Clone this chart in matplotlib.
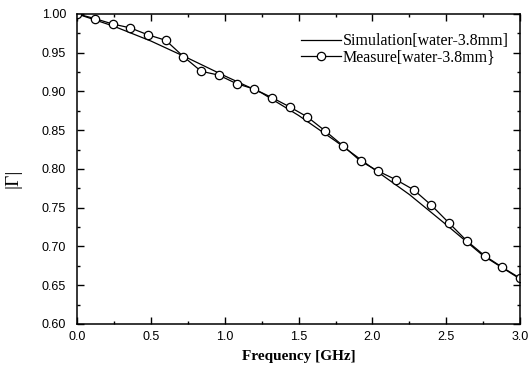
import matplotlib
matplotlib.use("Agg")
import matplotlib.pyplot as plt
from matplotlib.ticker import MultipleLocator

# Simulation curve
sim_freq = [0.0, 0.25, 0.5, 0.75, 1.0, 1.25, 1.5, 1.75, 2.0, 2.25, 2.5, 2.75, 3.0]
sim_gamma = [1.000, 0.984, 0.965, 0.943, 0.920, 0.898, 0.869, 0.836, 0.801,
             0.767, 0.728, 0.688, 0.658]

# Measured points
meas_freq = [0.00, 0.12, 0.24, 0.36, 0.48, 0.60, 0.72, 0.84, 0.96, 1.08, 1.20,
             1.32, 1.44, 1.56, 1.68, 1.80, 1.92, 2.04, 2.16, 2.28, 2.40, 2.52,
             2.64, 2.76, 2.88, 3.00]
meas_gamma = [1.000, 0.994, 0.987, 0.982, 0.973, 0.966, 0.945, 0.926, 0.921,
              0.910, 0.903, 0.892, 0.880, 0.867, 0.849, 0.830, 0.810, 0.797,
              0.786, 0.773, 0.753, 0.730, 0.707, 0.688, 0.673, 0.659]

fig = plt.figure(figsize=(5.28, 3.66), dpi=100)
ax = fig.add_axes([0.146, 0.115, 0.839, 0.847])

ax.plot(sim_freq, sim_gamma, color="black", lw=0.9,
        label="Simulation[water-3.8mm]")
ax.plot(meas_freq, meas_gamma, color="black", lw=0.9, marker="o",
        markersize=6, markerfacecolor="white", markeredgewidth=0.9,
        label="Measure[water-3.8mm}")

ax.set_xlim(0, 3.0)
ax.set_ylim(0.60, 1.00)
ax.xaxis.set_major_locator(MultipleLocator(0.5))
ax.xaxis.set_minor_locator(MultipleLocator(0.25))
ax.yaxis.set_major_locator(MultipleLocator(0.05))
ax.yaxis.set_minor_locator(MultipleLocator(0.025))
ax.xaxis.set_major_formatter(plt.FuncFormatter(lambda v, p: f"{v:.1f}"))
ax.yaxis.set_major_formatter(plt.FuncFormatter(lambda v, p: f"{v:.2f}"))

ax.tick_params(which="both", direction="in", top=True, right=True,
               labelsize=9, width=1.0)
ax.tick_params(which="major", length=5)
ax.tick_params(which="minor", length=2.5)
ax.tick_params(axis="y", which="major", pad=8)
ax.tick_params(axis="x", which="major", pad=5)
for lab in ax.get_xticklabels() + ax.get_yticklabels():
    lab.set_family("Liberation Sans")
for s in ax.spines.values():
    s.set_linewidth(1.1)

ax.set_xlabel("Frequency [GHz]", family="Liberation Serif", fontweight="bold",
              fontsize=11, labelpad=5)
ax.set_ylabel("|Γ|", family="Liberation Serif", fontsize=14)
ax.yaxis.set_label_coords(-0.125, 0.47)

leg = ax.legend(loc="upper right", frameon=False,
                prop={"family": "Liberation Serif", "size": 11.5},
                handlelength=2.5, handletextpad=0.1, labelspacing=0.0,
                borderaxespad=0, bbox_to_anchor=(0.989, 0.958))

fig.savefig("out.png", dpi=100)
